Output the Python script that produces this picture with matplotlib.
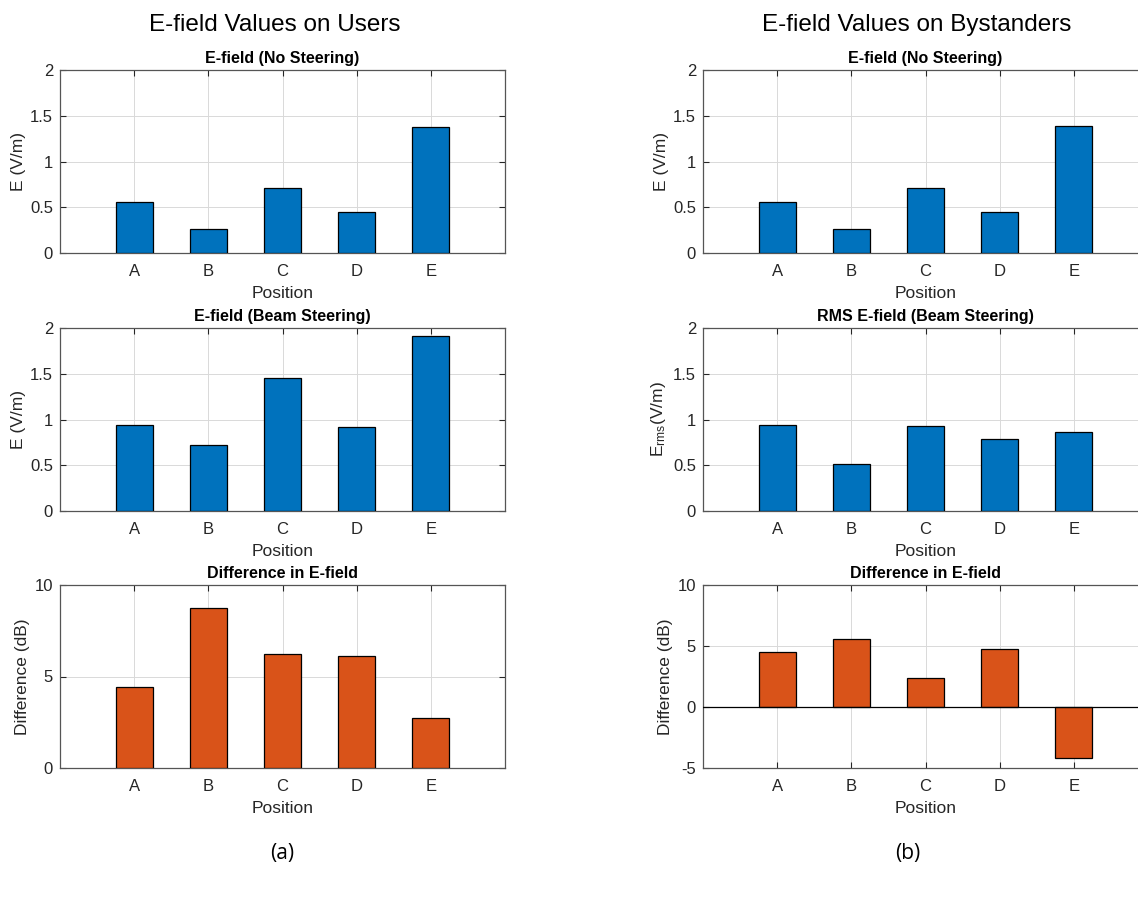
import numpy as np
import matplotlib
matplotlib.use("Agg")
import matplotlib.pyplot as plt

# positions along x
positions = ['A', 'B', 'C', 'D', 'E']

# users
users_no_steer = [0.553, 0.262, 0.705, 0.444, 1.382]
users_beam = [0.936, 0.720, 1.459, 0.914, 1.909]
users_diff_db = [4.41, 8.75, 6.22, 6.10, 2.74]

# bystanders
by_no_steer = [0.556, 0.265, 0.709, 0.447, 1.385]
by_rms_beam = [0.942, 0.509, 0.931, 0.785, 0.858]
by_diff_db = [4.52, 5.58, 2.34, 4.76, -4.17]

BLUE = '#0072BD'
ORANGE = '#D95319'
DARK = '#262626'

plt.rcParams['font.family'] = ['Liberation Sans', 'DejaVu Sans']
plt.rcParams['mathtext.default'] = 'regular'

W, H = 1138, 898
fig = plt.figure(figsize=(W / 100, H / 100), dpi=100)


def make_axes(x0, top, w=445, h=183):
    return fig.add_axes([x0 / W, 1 - (top + h) / H, w / W, h / H])


def bar_panel(ax, vals, color, title, ylabel, ylim, yticks, zero_line=False, ypad=3):
    x = np.arange(1, len(vals) + 1)
    ax.bar(x, vals, width=0.5, color=color, edgecolor='black', linewidth=0.9, zorder=3)
    if zero_line:
        ax.axhline(0, color='black', linewidth=0.9, zorder=4)
    ax.set_xlim(0, 6)
    ax.set_ylim(*ylim)
    ax.set_xticks(x)
    ax.set_xticklabels(positions)
    ax.set_yticks(yticks)
    ax.set_yticklabels([('%g' % t) for t in yticks])
    ax.grid(True, color='#d9d9d9', linewidth=0.7, zorder=0)
    ax.set_axisbelow(True)
    ax.tick_params(direction='in', top=True, right=True, length=4, width=0.8,
                   colors=DARK, labelsize=12, labelcolor=DARK)
    ax.tick_params(axis='x', pad=8)
    ax.tick_params(axis='y', pad=5)
    for s in ax.spines.values():
        s.set_color('#555555')
        s.set_linewidth(0.9)
    ax.set_title(title, fontsize=11.5, fontweight='bold', color='black', pad=5)
    ax.set_xlabel('Position', fontsize=12.5, color=DARK, labelpad=5)
    ax.set_ylabel(ylabel, fontsize=12.5, color=DARK, labelpad=ypad)


ytk_e = [0, 0.5, 1, 1.5, 2]

# left column: users
ax = make_axes(60, 70)
bar_panel(ax, users_no_steer, BLUE, 'E-field (No Steering)', 'E (V/m)', (0, 2), ytk_e)
ax = make_axes(60, 328)
bar_panel(ax, users_beam, BLUE, 'E-field (Beam Steering)', 'E (V/m)', (0, 2), ytk_e)
ax = make_axes(60, 585)
bar_panel(ax, users_diff_db, ORANGE, 'Difference in E-field', 'Difference (dB)', (0, 10), [0, 5, 10])

# right column: bystanders (runs past the right edge like the original)
ax = make_axes(703, 70)
bar_panel(ax, by_no_steer, BLUE, 'E-field (No Steering)', 'E (V/m)', (0, 2), ytk_e)
ax = make_axes(703, 328)
bar_panel(ax, by_rms_beam, BLUE, 'RMS E-field (Beam Steering)', 'E$_{rms}$(V/m)', (0, 2), ytk_e, ypad=4)
ax = make_axes(703, 585)
bar_panel(ax, by_diff_db, ORANGE, 'Difference in E-field', 'Difference (dB)', (-5, 10), [-5, 0, 5, 10],
          zero_line=True)

# column headings
fig.text(275 / W, 1 - 25 / H, 'E-field Values on Users', fontsize=17.5, ha='center', va='center', color='black')
fig.text(917 / W, 1 - 25 / H, 'E-field Values on Bystanders', fontsize=17.5, ha='center', va='center', color='black')

# panel letters
fig.text(282 / W, 1 - 853 / H, '(a)', fontsize=15, ha='center', va='center',
         family=['Open Sans', 'DejaVu Sans'])
fig.text(908 / W, 1 - 853 / H, '(b)', fontsize=15, ha='center', va='center',
         family=['Open Sans', 'DejaVu Sans'])

fig.savefig('out.png', dpi=100)
